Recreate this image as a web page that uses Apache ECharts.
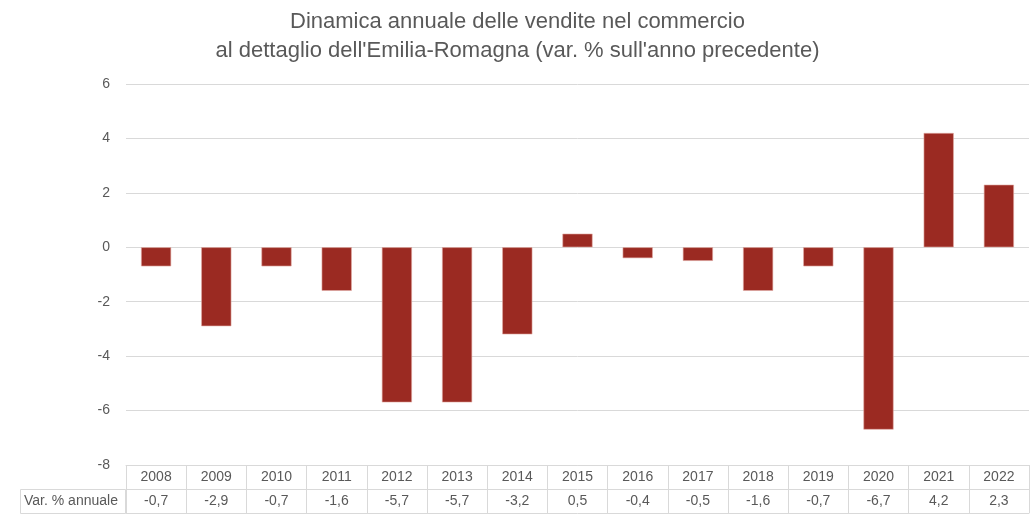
<!DOCTYPE html>
<html>
<head>
<meta charset="utf-8">
<script src="https://cdn.jsdelivr.net/npm/echarts@6/dist/echarts.min.js"></script>
<style>html,body{margin:0;padding:0;background:#fff}#c{width:1035px;height:514px}</style>
</head>
<body>
<div id="c"></div>
<script>
const years = ['2008','2009','2010','2011','2012','2013','2014','2015','2016','2017','2018','2019','2020','2021','2022'];
const values = [-0.7,-2.9,-0.7,-1.6,-5.7,-5.7,-3.2,0.5,-0.4,-0.5,-1.6,-0.7,-6.7,4.2,2.3];
const yTicks = {min:-8, max:6, interval:2};
const rowLabel = 'Var. % annuale';
const titleText = "Dinamica annuale delle vendite nel commercio\nal dettaglio dell'Emilia-Romagna (var. % sull'anno precedente)";

const fmt = v => String(v).replace('.', ',');
const gridCol = '#d9d9d9';
const txtCol = '#595959';
const font = 'Liberation Sans';

const chart = echarts.init(document.getElementById('c'));
chart.setOption({
  animation: false,
  textStyle: {fontFamily: font},
  title: {
    text: titleText, left: 'center', top: 2,
    textStyle: {fontFamily: font, fontSize: 22, fontWeight: 'normal', color: txtCol, lineHeight: 29}
  },
  grid: {left: 126, right: 6, top: 84, bottom: 49, containLabel: false},
  xAxis: [
    {
      type: 'category', data: years, position: 'bottom',
      axisLine: {show: true, onZero: false, lineStyle: {color: gridCol}},
      axisTick: {show: true, length: 48, lineStyle: {color: gridCol}},
      axisLabel: {color: txtCol, fontSize: 14, margin: 5, fontFamily: font},
      splitLine: {show: false}
    },
    {
      type: 'category', data: years, position: 'bottom', offset: 24,
      axisLine: {show: true, onZero: false, lineStyle: {color: gridCol}},
      axisTick: {show: false},
      axisLabel: {color: txtCol, fontSize: 14, margin: 5, fontFamily: font,
        formatter: (v, i) => fmt(values[i])}
    },
    {
      type: 'category', data: years, position: 'bottom', offset: 48,
      axisLine: {show: true, onZero: false, lineStyle: {color: gridCol}},
      axisTick: {show: false},
      axisLabel: {show: false}
    }
  ],
  yAxis: {
    type: 'value', min: yTicks.min, max: yTicks.max, interval: yTicks.interval,
    axisLine: {show: false}, axisTick: {show: false},
    splitLine: {lineStyle: {color: gridCol, width: 1}},
    axisLabel: {color: txtCol, fontSize: 14, margin: 16, fontFamily: font}
  },
  graphic: [
    {type: 'rect', shape: {x: 20.5, y: 489.5, width: 105, height: 24},
     style: {fill: 'none', stroke: gridCol, lineWidth: 1}},
    {type: 'text', x: 24, y: 501.5,
     style: {text: rowLabel, fill: txtCol, fontSize: 14, fontFamily: font, verticalAlign: 'middle'}}
  ],
  series: [{
    type: 'bar', data: values, barWidth: '50%',
    itemStyle: {color: '#9b2a22', borderColor: '#e0a9a3', borderWidth: 0.6}
  }]
});
</script>
</body>
</html>
